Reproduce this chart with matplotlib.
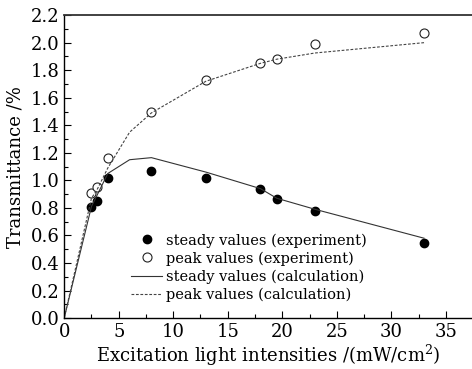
import matplotlib
matplotlib.use("Agg")
from matplotlib import pyplot as plt
from matplotlib.ticker import MultipleLocator

plt.rcParams["font.family"] = ["DejaVu Serif"]
plt.rcParams["mathtext.default"] = "regular"

# experiment
exp_x = [2.5, 3.0, 4.0, 8.0, 13.0, 18.0, 19.5, 23.0, 33.0]
steady_exp = [0.81, 0.85, 1.02, 1.065, 1.02, 0.935, 0.865, 0.775, 0.545]
peak_exp = [0.905, 0.955, 1.165, 1.50, 1.73, 1.855, 1.885, 1.99, 2.07]

# calculation
steady_calc_x = [0, 2.5, 4, 6, 8, 13, 18, 19.5, 23, 33]
steady_calc = [0, 0.81, 1.05, 1.15, 1.165, 1.06, 0.94, 0.87, 0.79, 0.58]
peak_calc_x = [0, 2.5, 3, 4, 6, 8, 13, 18, 19.5, 23, 33]
peak_calc = [0, 0.87, 0.93, 1.09, 1.35, 1.49, 1.72, 1.85, 1.88, 1.925, 2.0]

fig = plt.figure(figsize=(4.72, 3.69), dpi=100)
ax = fig.add_axes([0.136, 0.138, 0.864, 0.821])

ax.plot(exp_x, steady_exp, "o", color="black", ms=6, label="steady values (experiment)")
ax.plot(exp_x, peak_exp, "o", mfc="white", mec="#222222", mew=0.8, ms=6.5,
        label="peak values (experiment)")
ax.plot(steady_calc_x, steady_calc, "-", color="#333333", lw=0.8,
        label="steady values (calculation)")
ax.plot(peak_calc_x, peak_calc, "--", color="#444444", lw=0.8, dashes=(2.5, 1.5),
        label="peak values (calculation)")

ax.set_xlim(0, 37.4)
ax.set_ylim(0, 2.2)
ax.xaxis.set_major_locator(MultipleLocator(5))
ax.xaxis.set_minor_locator(MultipleLocator(2.5))
ax.yaxis.set_major_locator(MultipleLocator(0.2))
ax.yaxis.set_minor_locator(MultipleLocator(0.1))
ax.yaxis.set_major_formatter(matplotlib.ticker.FormatStrFormatter("%.1f"))
ax.tick_params(which="both", direction="in", labelsize=13, width=0.8)
ax.tick_params(which="major", length=5)
ax.tick_params(which="minor", length=3)
ax.spines["right"].set_visible(False)
for s in ["left", "bottom"]:
    ax.spines[s].set_linewidth(1.0)
ax.spines["top"].set_linewidth(1.3)
ax.spines["top"].set_color("#333333")

ax.set_xlabel("Excitation light intensities /(mW/cm$^{2}$)", fontsize=13, labelpad=1)
ax.set_ylabel("Transmittance /%", fontsize=13, labelpad=4)

ax.legend(loc="lower left", bbox_to_anchor=(0.15, 0.035), frameon=False, fontsize=10.5,
          handlelength=2.1, handletextpad=0.3, labelspacing=0.25, borderaxespad=0)

fig.savefig("out.png", dpi=100)
